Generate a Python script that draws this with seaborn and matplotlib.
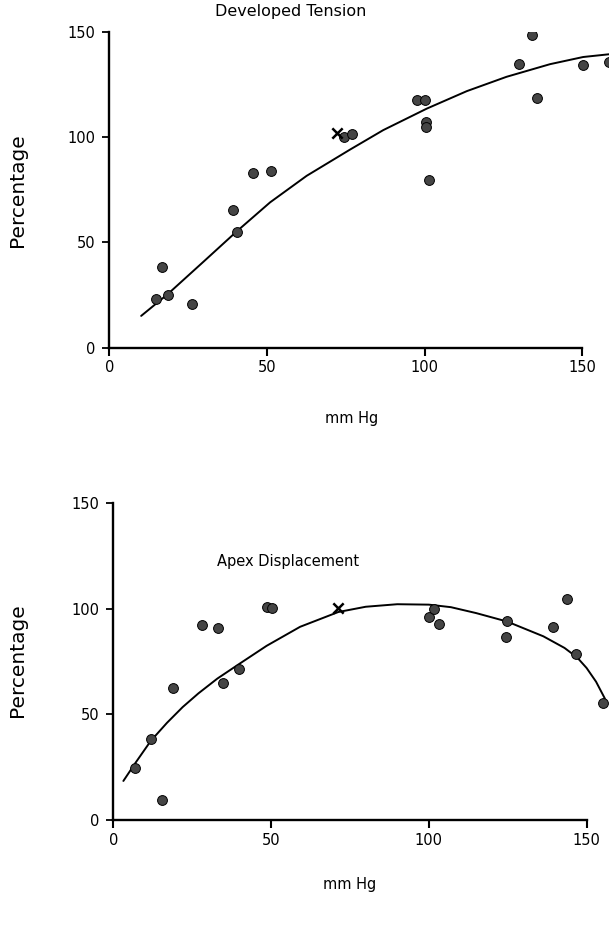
import matplotlib
matplotlib.use("Agg")
import matplotlib.pyplot as plt
import seaborn as sns
import pandas as pd

# ---------------- data ----------------
tension_x = [14.8, 16.6, 18.5, 26.1, 39.3, 40.4, 45.5, 51.2, 74.5, 76.9,
             97.7, 100.1, 100.3, 100.4, 101.5, 129.9, 134.2, 135.6, 150.3, 158.6]
tension_y = [23.0, 38.2, 25.2, 20.7, 65.4, 54.8, 83.0, 83.8, 100.2, 101.4,
             117.4, 117.7, 107.3, 104.9, 79.8, 134.7, 148.3, 118.7, 134.2, 135.5]
tension_cross_x = [72.1]
tension_cross_y = [101.8]
tension_curve_x = [10.1, 18.5, 30.0, 40.4, 51.0, 62.6, 76.3, 86.9, 100.7,
                   113.4, 126.0, 139.8, 150.3, 158.5]
tension_curve_y = [15.1, 25.4, 41.0, 55.2, 69.0, 81.6, 94.0, 103.3, 113.5,
                   121.8, 128.6, 134.6, 138.0, 139.3]

disp_x = [6.9, 11.9, 15.3, 18.8, 28.0, 33.3, 34.7, 39.9, 48.6, 50.2,
          100.0, 101.7, 103.3, 124.8, 124.6, 139.2, 143.7, 146.6, 155.3]
disp_y = [24.8, 38.2, 9.5, 62.4, 92.4, 90.8, 65.0, 71.4, 101.1, 100.3,
          96.0, 100.0, 92.7, 94.4, 86.8, 91.2, 104.5, 78.5, 55.3]
disp_cross_x = [71.3]
disp_cross_y = [100.3]
disp_curve_x = [3.2, 7.0, 11.9, 17.0, 22.0, 27.0, 33.0, 40.0, 48.6, 59.2,
                71.3, 80.0, 90.0, 100.0, 107.0, 115.0, 124.8, 136.3, 143.0,
                147.0, 150.0, 153.0, 155.8]
disp_curve_y = [18.5, 27.0, 37.5, 46.0, 53.5, 60.0, 67.0, 74.0, 82.5, 91.5,
                98.5, 101.0, 102.2, 102.0, 100.8, 98.0, 94.0, 87.0, 81.5,
                77.0, 72.0, 65.5, 57.5]

x_ticks = [0, 50, 100, 150]
y_ticks = [0, 50, 100, 150]
titles = ["Developed Tension", "Apex Displacement"]
x_label = "mm Hg"
y_label = "Percentage"

# ---------------- style ----------------
sns.set_theme(style="white")
plt.rcParams["font.family"] = ["DejaVu Sans"]

fig = plt.figure(figsize=(6.09, 9.25), dpi=100)
ax1 = fig.add_axes([0.1795, 0.6241, 0.8205, 0.3416])
ax2 = fig.add_axes([0.186, 0.1135, 0.814, 0.3424])

panels = [
    (ax1, tension_x, tension_y, tension_cross_x, tension_cross_y,
     tension_curve_x, tension_curve_y, 158.5),
    (ax2, disp_x, disp_y, disp_cross_x, disp_cross_y,
     disp_curve_x, disp_curve_y, 157.1),
]

for ax, px, py, cx, cy, lx, ly, xmax in panels:
    curve = pd.DataFrame({"x": lx, "y": ly})
    sns.lineplot(data=curve, x="x", y="y", ax=ax, color="black", lw=1.4,
                 sort=False, estimator=None)
    pts = pd.DataFrame({"x": px, "y": py})
    sns.scatterplot(data=pts, x="x", y="y", ax=ax, marker="o", s=50,
                    color="#454545", edgecolor="black", linewidth=0.7, zorder=3)
    cross = pd.DataFrame({"x": cx, "y": cy})
    sns.scatterplot(data=cross, x="x", y="y", ax=ax, marker="x", s=55,
                    color="black", linewidth=1.8, zorder=4)
    ax.set_xlim(0, xmax)
    ax.set_ylim(0, 150)
    ax.set_xticks(x_ticks)
    ax.set_yticks(y_ticks)
    ax.set_xlabel("")
    ax.set_ylabel("")
    for s in ["top", "right"]:
        ax.spines[s].set_visible(False)
    for s in ["left", "bottom"]:
        ax.spines[s].set_linewidth(1.7)
        ax.spines[s].set_color("black")
        ax.spines[s].set_bounds(0, 150)
    ax.tick_params(axis="x", direction="out", length=6, width=1.5,
                   colors="black", labelsize=10.5, pad=3, bottom=True)
    ax.tick_params(axis="y", direction="out", length=5, width=1.3,
                   colors="black", labelsize=10.5, pad=5, left=True)
    ax.set_facecolor("white")

ax1.text(57.6, 159.5, titles[0], ha="center", va="center", fontsize=11.5,
         color="black", clip_on=False)
ax2.text(55.4, 122.2, titles[1], ha="center", va="center", fontsize=10.5,
         color="black")

fig.text(18 / 609, 1 - 190 / 925, y_label, rotation=90, ha="center",
         va="center", fontsize=14.5, color="black")
fig.text(18 / 609, 1 - 660 / 925, y_label, rotation=90, ha="center",
         va="center", fontsize=14.5, color="black")
fig.text(352 / 609, 1 - 418 / 925, x_label, ha="center", va="center",
         fontsize=10.5, color="black")
fig.text(350 / 609, 1 - 885 / 925, x_label, ha="center", va="center",
         fontsize=10.5, color="black")

fig.savefig("out.png", dpi=100, facecolor="white")
